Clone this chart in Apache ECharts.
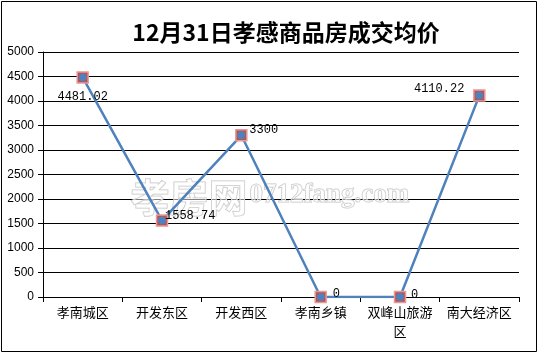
<!DOCTYPE html>
<html>
<head>
<meta charset="utf-8">
<script src="https://cdn.jsdelivr.net/npm/echarts@6/dist/echarts.min.js"></script>
<style>html,body{margin:0;padding:0;background:#fff;}#c{width:539px;height:354px;}</style>
</head>
<body>
<div id="c"></div>
<script>
const titleText = '12月31日孝感商品房成交均价';
const categories = ['孝南城区', '开发东区', '开发西区', '孝南乡镇', '双峰山旅游\n区', '南大经济区'];
const prices = [4481.02, 1558.74, 3300, 0, 0, 4110.22];
const labelTexts = ['4481.02', '1558.74', '3300', '0', '0', '4110.22'];
const yTicks = [0, 500, 1000, 1500, 2000, 2500, 3000, 3500, 4000, 4500, 5000];

const labelPlacement = [
  { position: 'bottom', offset: [0, 4] },
  { position: 'right', offset: [-6, -5] },
  { position: 'right', offset: [-1, -5] },
  { position: 'right', offset: [3, -3] },
  { position: 'right', offset: [2, -2] },
  { position: 'left', offset: [-6, -7] }
];

const chart = echarts.init(document.getElementById('c'), null, { renderer: 'canvas' });
chart.setOption({
  animation: false,
  backgroundColor: '#fff',
  title: {
    text: titleText,
    left: 281, top: 16, textAlign: 'center',
    textStyle: { fontFamily: '"Noto Sans CJK SC"', fontWeight: 'bold', fontSize: 23, color: '#000' }
  },
  grid: { left: 43, right: 20, top: 52, bottom: 57, containLabel: false },
  xAxis: {
    type: 'category',
    data: categories,
    boundaryGap: true,
    axisLine: { lineStyle: { color: '#000', width: 1 } },
    axisTick: { show: true, length: 5, lineStyle: { color: '#000' }, alignWithLabel: false },
    axisLabel: { color: '#000', fontSize: 13, fontFamily: '"Noto Sans CJK SC"', margin: 6, lineHeight: 19, interval: 0 },
    splitLine: { show: false }
  },
  yAxis: {
    type: 'value',
    min: yTicks[0], max: yTicks[yTicks.length - 1], interval: yTicks[1] - yTicks[0],
    axisLine: { show: true, lineStyle: { color: '#000', width: 1 } },
    axisTick: { show: true, length: 5, lineStyle: { color: '#000' } },
    axisLabel: { color: '#000', fontSize: 12, fontFamily: '"Liberation Sans", Arial', margin: 9, formatter: v => String(v) },
    splitLine: { show: true, lineStyle: { color: '#000', width: 1 } }
  },
  series: [
    {
      type: 'line',
      data: prices,
      symbol: 'rect',
      symbolSize: 11,
      lineStyle: { color: '#4f81bd', width: 2.5 },
      itemStyle: { color: '#c0504d', borderColor: '#e49a98', borderWidth: 1.5 },
      z: 2,
      label: { show: false }
    },
    {
      type: 'line',
      data: prices.map((v, i) => ({
        value: v,
        label: {
          show: true,
          formatter: labelTexts[i],
          position: labelPlacement[i].position,
          offset: labelPlacement[i].offset,
          color: '#000',
          fontSize: 12,
          fontFamily: '"Liberation Mono", monospace',
          distance: 5
        }
      })),
      symbol: 'circle',
      symbolSize: 8,
      lineStyle: { width: 0, opacity: 0 },
      itemStyle: { color: '#4f81bd' },
      z: 3
    }
  ],
  graphic: [
    {
      type: 'text', left: 130, top: 177, z: 1,
      style: { text: '孝房网', font: 'bold 39px "Noto Sans CJK SC"', fill: 'rgba(255,255,255,0.5)', stroke: '#c4c4c4', lineWidth: 1 }
    },
    {
      type: 'text', left: 249, top: 181, z: 1,
      style: { text: '0712fang.com', font: 'bold 27px "Liberation Serif", "DejaVu Serif"', fill: 'rgba(255,255,255,0.5)', stroke: '#c4c4c4', lineWidth: 1 }
    },
    {
      type: 'rect', z: 100, silent: true,
      shape: { x: 1.5, y: 1.5, width: 535, height: 350 },
      style: { fill: 'none', stroke: '#000', lineWidth: 1 }
    }
  ]
});
</script>
</body>
</html>
